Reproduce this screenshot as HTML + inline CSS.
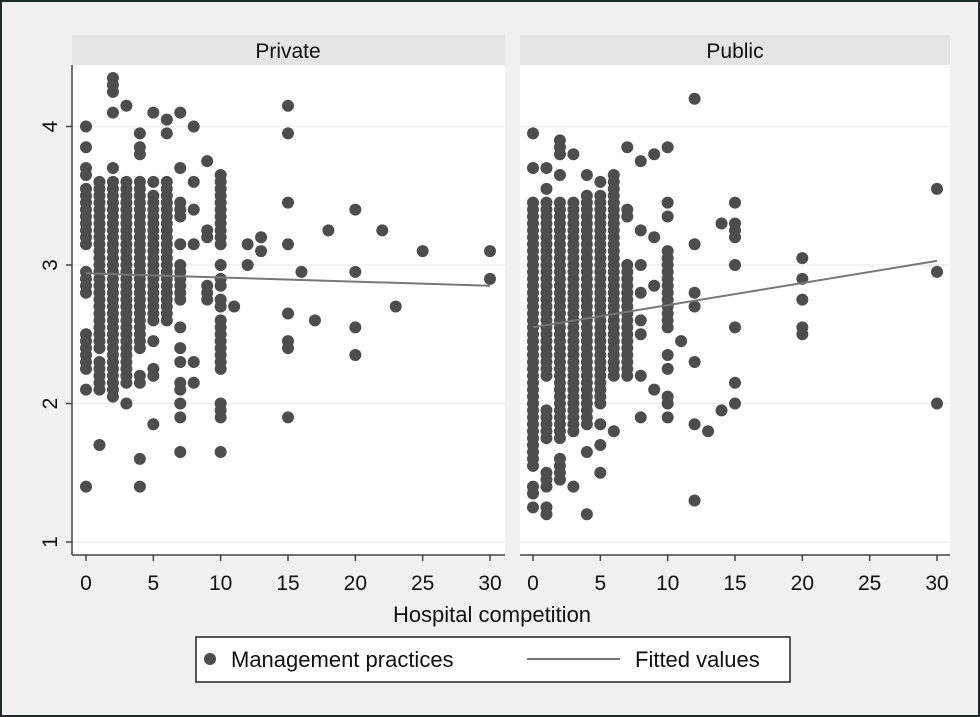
<!DOCTYPE html>
<html><head><meta charset="utf-8"><style>
html,body{margin:0;padding:0;background:#f1f1f1}
svg{display:block;font-family:"Liberation Sans",sans-serif}
</style></head><body>
<svg id="s" width="980" height="717" viewBox="0 0 980 717" xmlns="http://www.w3.org/2000/svg">
<rect x="1" y="1" width="978" height="715" fill="#f1f1f1" stroke="#1e2a28" stroke-width="2"/>
<rect x="72" y="35" width="433" height="30" fill="#e5e5e5"/>
<rect x="520" y="35" width="430" height="30" fill="#e5e5e5"/>
<rect x="72" y="65" width="433" height="490" fill="#fff"/>
<rect x="520" y="65" width="430" height="490" fill="#fff"/>
<text x="288" y="58" font-size="21" text-anchor="middle" fill="#111">Private</text>
<text x="735" y="58" font-size="21" text-anchor="middle" fill="#111">Public</text>
<g id="grid" stroke="#efefef" stroke-width="1.5"></g>
<g id="pts" fill="#4d4d4d"></g>
<g id="fit" stroke="#777" stroke-width="2"></g>
<g id="ax" stroke="#444" stroke-width="1.5" fill="none"></g>
<g id="lbl" font-size="21" fill="#111" text-anchor="middle"></g>
<text x="492" y="622" font-size="22" text-anchor="middle" fill="#111">Hospital competition</text>
<rect x="196" y="637" width="594" height="45" fill="#fff" stroke="#222" stroke-width="1.5"/>
<circle cx="210" cy="659" r="6" fill="#4d4d4d"/>
<text x="231" y="667" font-size="22" fill="#111">Management practices</text>
<line x1="527" y1="659" x2="620" y2="659" stroke="#777" stroke-width="2"/>
<text x="635" y="667" font-size="22" fill="#111">Fitted values</text>
</svg>
<script>
var NS="http://www.w3.org/2000/svg";
function el(p,t,a){var e=document.createElementNS(NS,t);for(var k in a)e.setAttribute(k,a[k]);document.getElementById(p).appendChild(e);return e;}
function Y(v){return 265-(v-3)*138.5;}
var L={x0:86,x1:490,l:72,r:505},R={x0:533,x1:937,l:520,r:950};
function X(p,v){return p.x0+(p.x1-p.x0)*v/30;}
[L,R].forEach(function(p){
 [1,2,3,4].forEach(function(v){el("grid","line",{x1:p.l,x2:p.r,y1:Y(v),y2:Y(v)});});
 el("ax","line",{x1:p.l,x2:p.r,y1:555,y2:555});
 [0,5,10,15,20,25,30].forEach(function(v){var x=X(p,v);el("ax","line",{x1:x,x2:x,y1:555,y2:561});
  var t=el("lbl","text",{x:x,y:590});t.textContent=v;});
});
el("ax","line",{x1:72,x2:72,y1:65,y2:555});
[1,2,3,4].forEach(function(v){el("ax","line",{x1:66,x2:72,y1:Y(v),y2:Y(v)});
 var t=el("lbl","text",{x:0,y:0,transform:"translate(57,"+Y(v)+") rotate(-90)"});t.textContent=v;});
function plot(p,data){
 data.forEach(function(c){var x=c[0];
  (c[1]||[]).forEach(function(s){for(var v=s[0];v<=s[1]+1e-6;v+=0.05)el("pts","circle",{cx:X(p,x),cy:Y(v),r:6});});
  (c[2]||[]).forEach(function(v){el("pts","circle",{cx:X(p,x),cy:Y(v),r:6});});
 });
}
plot(L,[
[0,[[3.15,3.55],[2.8,2.95],[2.25,2.5]],[4.0,3.85,3.7,3.65,2.1,1.4]],
[1,[[2.4,3.6],[2.15,2.3]],[2.1,1.7]],
[2,[[2.1,3.6]],[3.7,4.35,4.3,4.25,4.1,2.05]],
[3,[[2.15,3.6]],[2.0,4.15]],
[4,[[2.4,3.6]],[3.95,3.85,3.8,2.2,2.15,1.6,1.4]],
[5,[[2.6,3.5]],[2.45,2.25,2.2,1.85,4.1,3.6]],
[6,[[2.6,3.6]],[4.05,3.95]],
[7,[[2.75,3.0],[3.35,3.45]],[3.7,4.1,2.55,2.4,2.3,2.15,2.1,2.0,1.9,1.65,3.15]],
[8,[],[4.0,3.6,3.4,3.15,2.3,2.15]],
[9,[],[3.75,3.25,3.2,2.85,2.8,2.75]],
[10,[[3.15,3.65],[2.25,2.6]],[3.0,2.9,2.85,2.75,2.7,2.0,1.95,1.9,1.65]],
[11,[],[2.7]],[12,[],[3.15,3.0]],[13,[],[3.2,3.1]],
[15,[],[4.15,3.95,3.45,3.15,2.65,2.45,2.4,1.9]],
[16,[],[2.95]],[17,[],[2.6]],[18,[],[3.25]],
[20,[],[3.4,2.95,2.55,2.35]],[22,[],[3.25]],[23,[],[2.7]],[25,[],[3.1]],[30,[],[3.1,2.9]]
]);
plot(R,[
[0,[[1.55,3.45]],[3.95,3.7,1.4,1.35,1.25]],
[1,[[2.2,3.45],[1.75,1.95],[1.4,1.5]],[3.7,3.55,1.25,1.2]],
[2,[[1.75,3.45],[1.45,1.6]],[3.65,3.8,3.85,3.9]],
[3,[[1.8,3.45]],[3.8,1.4]],
[4,[[1.85,3.5]],[3.65,1.65,1.2]],
[5,[[2.0,3.5]],[1.85,1.7,1.5,3.6]],
[6,[[2.2,3.65]],[1.8]],
[7,[[2.2,3.0]],[3.85,3.4,3.35]],
[8,[],[3.75,3.25,3.0,2.8,2.6,2.5,2.2,1.9]],
[9,[],[3.8,3.2,2.85,2.1]],
[10,[[2.55,3.1]],[3.85,3.45,3.35,2.35,2.25,2.05,2.0,1.9]],
[11,[],[2.45]],[12,[],[4.2,3.15,2.8,2.7,2.3,1.85,1.3]],[13,[],[1.8]],[14,[],[3.3,1.95]],
[15,[],[3.45,3.3,3.25,3.2,3.0,2.55,2.15,2.0]],
[20,[],[3.05,2.9,2.75,2.55,2.5]],[30,[],[3.55,2.95,2.0]]
]);
el("fit","line",{x1:X(L,0),x2:X(L,30),y1:Y(2.94),y2:Y(2.85)});
el("fit","line",{x1:X(R,0),x2:X(R,30),y1:Y(2.55),y2:Y(3.03)});
</script>
</body></html>
